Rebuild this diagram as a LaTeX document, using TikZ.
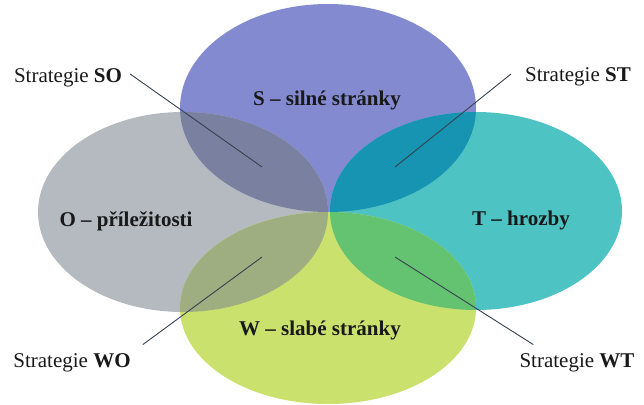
\documentclass[tikz,border=0pt]{standalone}
\usepackage{fontspec}
\setmainfont{Liberation Serif}
\definecolor{cS}{RGB}{131,138,208}
\definecolor{cO}{RGB}{180,186,192}
\definecolor{cT}{RGB}{78,195,195}
\definecolor{cW}{RGB}{203,225,110}
\definecolor{cSO}{RGB}{122,128,160}
\definecolor{cST}{RGB}{22,148,178}
\definecolor{cOW}{RGB}{158,174,128}
\definecolor{cTW}{RGB}{100,195,112}
\definecolor{cLine}{RGB}{55,65,80}
\definecolor{cText}{RGB}{25,25,25}
\begin{document}
\begin{tikzpicture}[x=1pt,y=-1pt,
  title/.style={font=\fontsize{21}{25}\selectfont\bfseries, text=cText, inner sep=3pt},
  lab/.style={font=\fontsize{21}{25}\selectfont, text=cText, inner sep=4pt},
  leader/.style={draw=cLine, line width=0.9pt}]
\useasboundingbox (0,0) rectangle (644,404);
\def\pS{(328,108) ellipse [x radius=148pt, y radius=104pt]}
\def\pO{(183,212) ellipse [x radius=145pt, y radius=100pt]}
\def\pT{(476,211) ellipse [x radius=146pt, y radius=99pt]}
\def\pW{(328,308) ellipse [x radius=148pt, y radius=96pt]}
\fill[cS] \pS;
\fill[cO] \pO;
\fill[cT] \pT;
\fill[cW] \pW;
\begin{scope}\clip \pS; \fill[cSO] \pO; \end{scope}
\begin{scope}\clip \pS; \fill[cST] \pT; \end{scope}
\begin{scope}\clip \pW; \fill[cOW] \pO; \end{scope}
\begin{scope}\clip \pW; \fill[cTW] \pT; \end{scope}

\node[title] (s) at (327,100) {S – silné stránky};
\node[title] (o) at (126,221) {O – příležitosti};
\node[title] (t) at (521,220) {T – hrozby};
\node[title] (w) at (320,330) {W – slabé stránky};

\node[lab] (so) at (68,78) {Strategie \textbf{SO}};
\node[lab] (st) at (578,77) {Strategie \textbf{ST}};
\node[lab] (wo) at (72,363) {Strategie \textbf{WO}};
\node[lab] (wt) at (577,363) {Strategie \textbf{WT}};

\coordinate (soE) at (262,167);
\coordinate (stE) at (395,167);
\coordinate (woE) at (262,257);
\coordinate (wtE) at (395,257);

\draw[leader] ([xshift=4pt,yshift=4pt]so.east) -- (soE);
\draw[leader] ([xshift=-10pt,yshift=3pt]st.west) -- (stE);
\draw[leader] ([xshift=8pt,yshift=5pt]wo.north east) -- (woE);
\draw[leader] ([xshift=18pt,yshift=5pt]wt.north west) -- (wtE);
\end{tikzpicture}
\end{document}
